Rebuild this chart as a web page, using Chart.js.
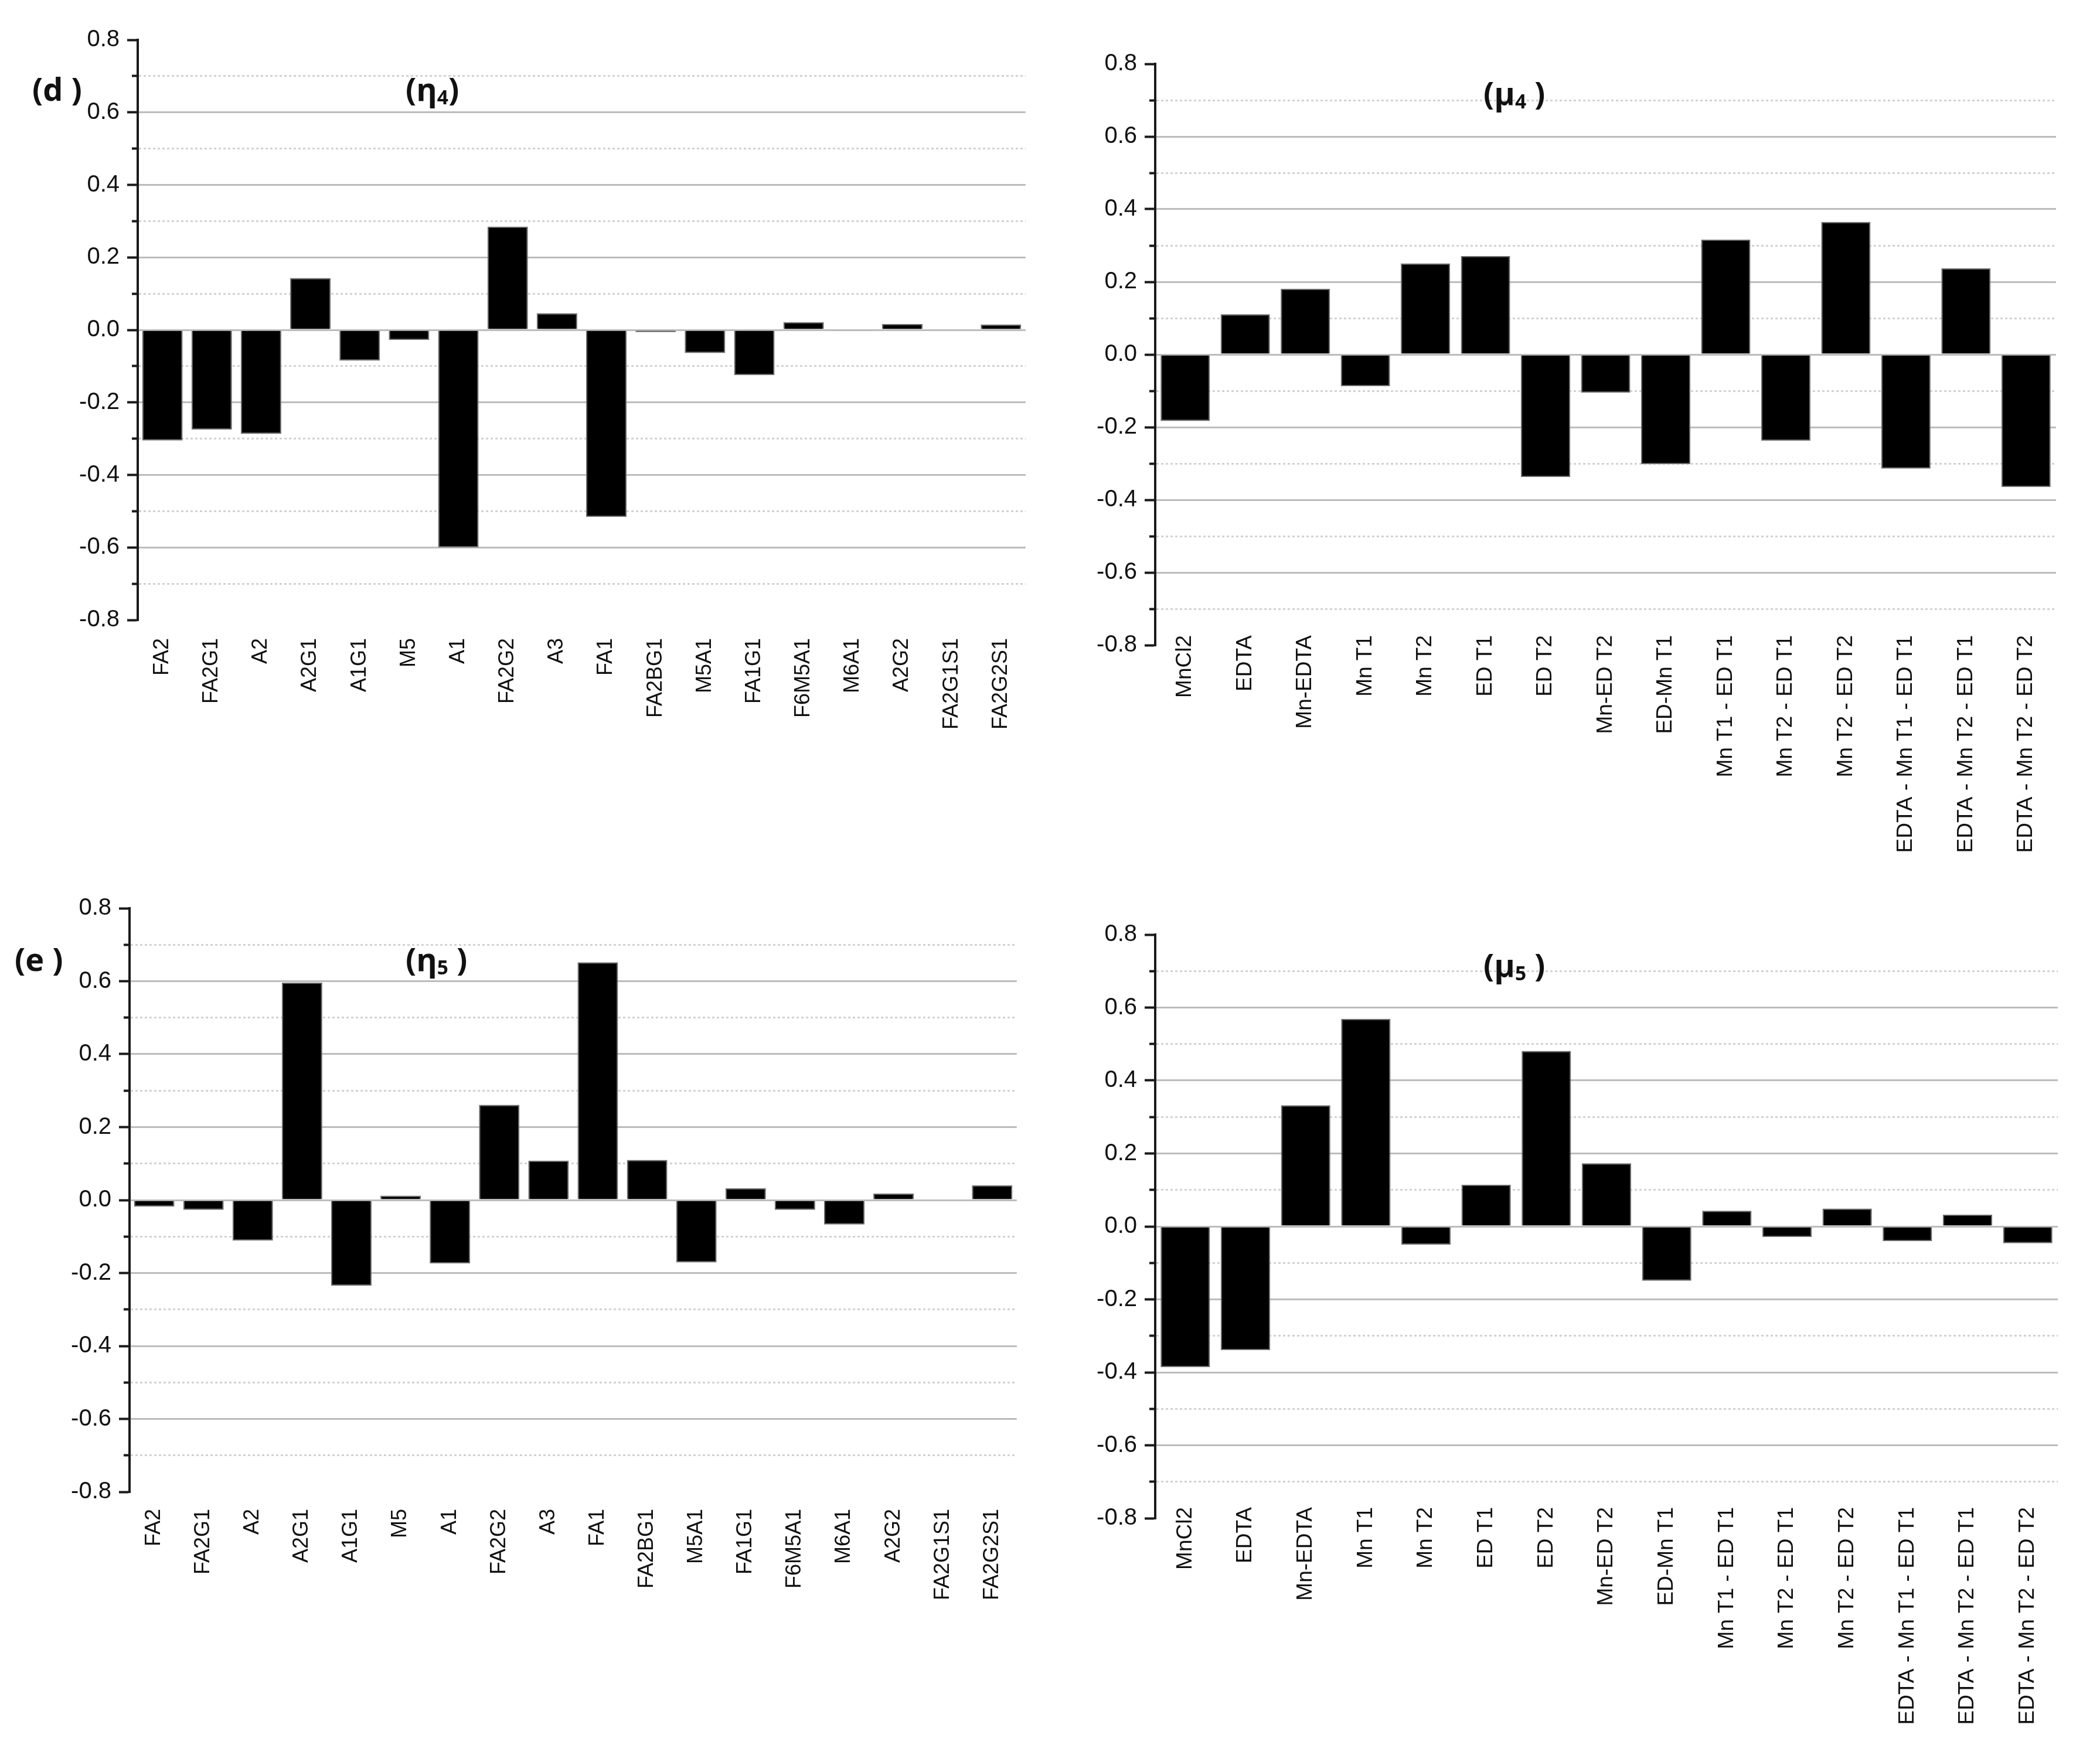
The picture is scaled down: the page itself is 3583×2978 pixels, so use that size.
<!DOCTYPE html>
<html>
<head>
<meta charset="utf-8">
<script src="https://cdn.jsdelivr.net/npm/chart.js@4.4.0/dist/chart.umd.min.js"></script>
<style>
    body { margin: 0; background: #fff; width: 3583px; height: 2978px; position: relative; overflow: hidden; }
    .panel { position: absolute; }
    .tag { position: absolute; font-family: "Open Sans", sans-serif; font-weight: 700; font-size: 54px; line-height: 1; color: #111; white-space: pre; }
    .tag sub { font-size: 0.62em; vertical-align: -0.18em; }
</style>
</head>
<body>
<canvas id="chartD" class="panel"></canvas>
<canvas id="chartMu4" class="panel"></canvas>
<canvas id="chartE" class="panel"></canvas>
<canvas id="chartMu5" class="panel"></canvas>

<div class="tag" style="left:55px; top:124px;">(d )</div>
<div class="tag" style="left:692px; top:124px;">(η<sub>4</sub>)</div>
<div class="tag" style="left:2531px; top:131px;">(μ<sub>4</sub> )</div>
<div class="tag" style="left:25px; top:1609px;">(e )</div>
<div class="tag" style="left:692px; top:1609px;">(η<sub>5</sub> )</div>
<div class="tag" style="left:2531px; top:1619px;">(μ<sub>5</sub> )</div>

<script>
// categories
const glycanLabels = ["FA2", "FA2G1", "A2", "A2G1", "A1G1", "M5", "A1", "FA2G2", "A3", "FA1",
    "FA2BG1", "M5A1", "FA1G1", "F6M5A1", "M6A1", "A2G2", "FA2G1S1", "FA2G2S1"];
const treatmentLabels = ["MnCl2", "EDTA", "Mn-EDTA", "Mn T1", "Mn T2", "ED T1", "ED T2", "Mn-ED T2",
    "ED-Mn T1", "Mn T1 - ED T1", "Mn T2 - ED T1", "Mn T2 - ED T2",
    "EDTA - Mn T1 - ED T1", "EDTA - Mn T2 - ED T1", "EDTA - Mn T2 - ED T2"];

// series values
const eta4Values = [-0.305, -0.275, -0.287, 0.143, -0.085, -0.028, -0.600, 0.285, 0.046, -0.516,
    -0.006, -0.064, -0.125, 0.021, -0.003, 0.016, 0.0, 0.015];
const mu4Values = [-0.183, 0.111, 0.181, -0.087, 0.251, 0.271, -0.337, -0.105, -0.302,
    0.316, -0.237, 0.365, -0.314, 0.237, -0.365];
const eta5Values = [-0.018, -0.027, -0.111, 0.596, -0.235, 0.012, -0.174, 0.261, 0.108, 0.652,
    0.110, -0.171, 0.032, -0.027, -0.067, 0.018, 0.0, 0.040];
const mu5Values = [-0.386, -0.339, 0.332, 0.569, -0.050, 0.114, 0.481, 0.173, -0.149,
    0.043, -0.029, 0.049, -0.040, 0.032, -0.046];

// y axis ticks
const yMin = -0.8;
const yMax = 0.8;
const yStep = 0.1;

const fontFamily = "'Liberation Sans', Arial, sans-serif";

function makeChart(id, box, labels, values) {
    const el = document.getElementById(id);
    el.width = box.width;
    el.height = box.height;
    el.style.left = box.left + "px";
    el.style.top = box.top + "px";
    el.style.width = box.width + "px";
    el.style.height = box.height + "px";

    const lastIdx = Math.round((yMax - yMin) / yStep);

    // the right-hand panels have their category labels starting a bit above the axis end
    const raiseLabels = {
        id: "raiseLabels",
        afterLayout(chart) {
            if (box.labelRaise) chart.scales.x.top -= box.labelRaise;
        }
    };

    return new Chart(el, {
        type: "bar",
        data: {
            labels: labels,
            datasets: [{
                data: values,
                backgroundColor: "#000",
                borderColor: "#6a6a6a",
                borderWidth: 2,
                barPercentage: 0.82,
                categoryPercentage: 1.0
            }]
        },
        plugins: [raiseLabels],
        options: {
            responsive: false,
            animation: false,
            devicePixelRatio: 1,
            layout: { padding: { top: 40, left: 0, right: 0, bottom: 0 } },
            plugins: { legend: { display: false }, tooltip: { enabled: false } },
            scales: {
                x: {
                    afterFit: s => { s.height = box.xAxisHeight; },
                    grid: { display: false, drawTicks: false },
                    border: { display: false },
                    ticks: {
                        autoSkip: false,
                        minRotation: 90,
                        maxRotation: 90,
                        padding: box.labelPad,
                        color: "#111",
                        font: { family: fontFamily, size: box.labelFont }
                    }
                },
                y: {
                    min: yMin,
                    max: yMax,
                    afterFit: s => { s.width = box.yAxisWidth; },
                    ticks: {
                        stepSize: yStep,
                        autoSkip: false,
                        padding: 13,
                        color: "#111",
                        font: { family: fontFamily, size: 40 },
                        callback: (v, i) => (i % 2 === 0 ? Number(v).toFixed(1) : "")
                    },
                    grid: {
                        color: c => (c.index === 0 || c.index === lastIdx) ? "rgba(0,0,0,0)"
                            : (c.index % 2 ? "#d2d2d2" : "#bcbcbc"),
                        lineWidth: 3,
                        tickLength: 18,
                        tickWidth: 4,
                        tickColor: "#1a1a1a",
                        tickBorderDash: c => (c.index % 2 ? [0, 8, 10, 100] : [])
                    },
                    border: {
                        display: true,
                        color: "#1a1a1a",
                        width: 4,
                        dash: c => (c.index % 2 ? [4, 4] : [])
                    }
                }
            }
        }
    });
}

// panel boxes: canvas position, forced axis sizes
makeChart("chartD", { left: 85, top: 28, width: 1697, height: 40 + 990 + 230,
    yAxisWidth: 150, xAxisHeight: 230, labelPad: 31, labelRaise: 0, labelFont: 36 }, glycanLabels, eta4Values);
makeChart("chartMu4", { left: 1821, top: 69, width: 1687, height: 40 + 992 + 400,
    yAxisWidth: 150, xAxisHeight: 400, labelPad: 0, labelRaise: 17, labelFont: 37 }, treatmentLabels, mu4Values);
makeChart("chartE", { left: 71, top: 1510, width: 1694, height: 40 + 996 + 230,
    yAxisWidth: 150, xAxisHeight: 230, labelPad: 29, labelRaise: 0, labelFont: 36 }, glycanLabels, eta5Values);
makeChart("chartMu5", { left: 1821, top: 1555, width: 1690, height: 40 + 996 + 380,
    yAxisWidth: 150, xAxisHeight: 380, labelPad: 0, labelRaise: 19, labelFont: 37 }, treatmentLabels, mu5Values);
</script>
</body>
</html>
